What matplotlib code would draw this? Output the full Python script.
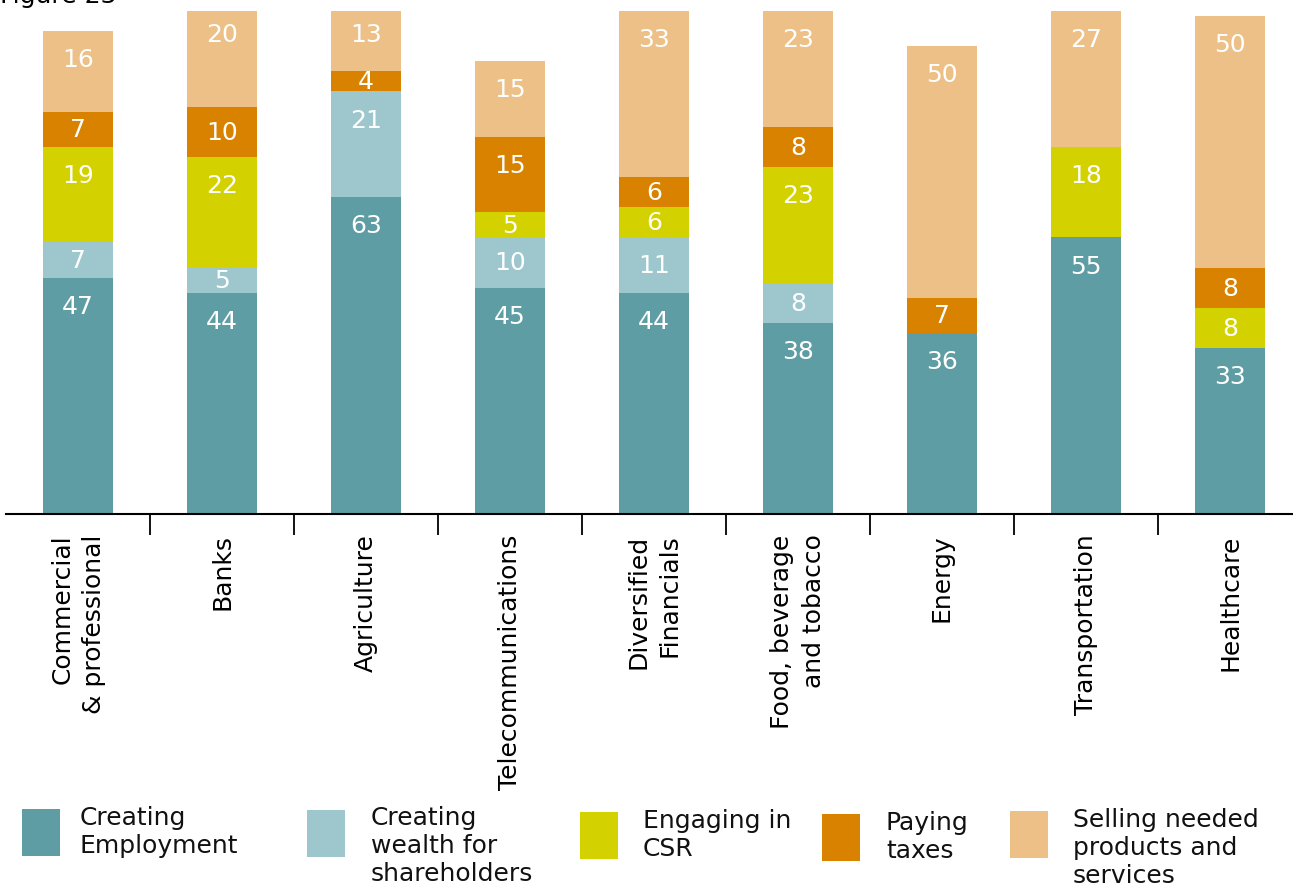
import matplotlib.pyplot as plt
import numpy as np
from matplotlib.patches import Rectangle

sectors = ['Commercial\n& professional', 'Banks', 'Agriculture', 'Telecommunications',
           'Diversified\nFinancials', 'Food, beverage\nand tobacco', 'Energy',
           'Transportation', 'Healthcare']

employment = [47, 44, 63, 45, 44, 38, 36, 55, 33]
wealth = [7, 5, 21, 10, 11, 8, 0, 0, 0]
csr = [19, 22, 0, 5, 6, 23, 0, 18, 8]
taxes = [7, 10, 4, 15, 6, 8, 7, 0, 8]
selling = [16, 20, 13, 15, 33, 23, 50, 27, 50]

series_names = ['Creating\nEmployment', 'Creating\nwealth for\nshareholders',
                'Engaging in\nCSR', 'Paying\ntaxes', 'Selling needed\nproducts and\nservices']
colors = ['#5f9da4', '#9dc7cd', '#d3d100', '#d98200', '#ecc086']

plt.rcParams['font.family'] = ['DejaVu Sans']

W, H = 1293, 895
fig = plt.figure(figsize=(W / 100, H / 100), dpi=100)
ax = fig.add_axes([6 / W, (H - 515) / H, 1287 / W, 503 / H])

x = np.arange(len(sectors))
bottom = np.zeros(len(sectors))
for vals, col in zip([employment, wealth, csr, taxes, selling], colors):
    vals = np.array(vals, dtype=float)
    ax.bar(x, vals, 0.486, bottom=bottom, color=col, linewidth=0)
    for xi, b, v in zip(x, bottom, vals):
        if v > 0:
            ytext = b + v - min(v / 2, 5.6)
            ax.text(xi, ytext, '%d' % v, color='white', fontsize=18,
                    ha='center', va='center')
    bottom += vals

ax.set_xlim(-0.5, -0.5 + 1287 / 144)
ax.set_ylim(0, 100)
for s in ['top', 'right', 'left']:
    ax.spines[s].set_visible(False)
ax.spines['bottom'].set_linewidth(1.5)
ax.set_yticks([])
ax.set_xticks(x)
ax.set_xticklabels(sectors, rotation=90, fontsize=18, va='top', ha='center',
                   multialignment='right', linespacing=1.4)
ax.tick_params(axis='x', which='major', length=0, pad=14)
ax.set_xticks(x[:-1] + 0.5, minor=True)
ax.tick_params(axis='x', which='minor', length=15, width=1.3, direction='out')

# legend drawn by hand along the bottom
patch_x = [22, 307, 580, 822, 1010]
patch_y = [810, 811, 813, 815, 812]
text_x = [80, 371, 643, 886, 1073]
text_y = [806, 806, 809, 811, 808]
for name, col, px, py, tx, ty in zip(series_names, colors, patch_x, patch_y, text_x, text_y):
    fig.patches.append(Rectangle((px / W, 1 - (py + 47) / H), 38 / W, 47 / H,
                                 transform=fig.transFigure, color=col, linewidth=0))
    fig.text(tx / W, 1 - ty / H, name, fontsize=18, ha='left', va='top',
             linespacing=1.22, color='#111111')

fig.text(0.0, 1 - 3 / H, 'Figure 23', fontsize=18, ha='left', va='baseline')

fig.savefig('out.png', dpi=100)
